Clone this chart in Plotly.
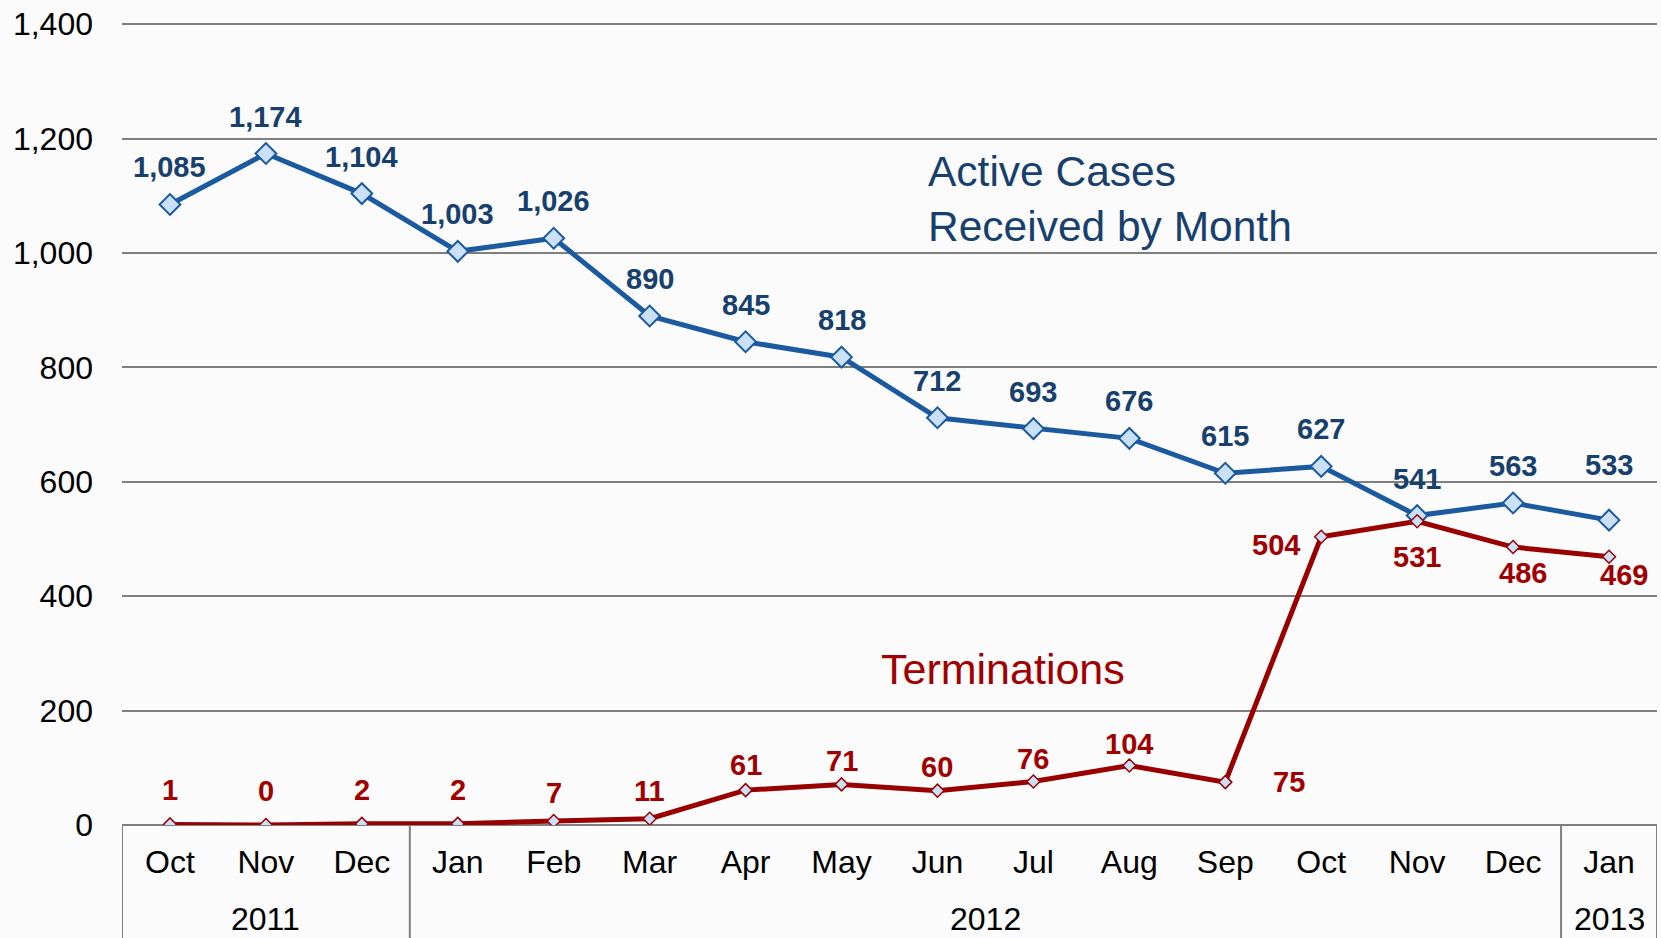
import plotly.graph_objects as go

months = ["Oct", "Nov", "Dec", "Jan", "Feb", "Mar", "Apr", "May", "Jun", "Jul",
          "Aug", "Sep", "Oct", "Nov", "Dec", "Jan"]
years = ["2011", "2011", "2011", "2012", "2012", "2012", "2012", "2012", "2012", "2012",
         "2012", "2012", "2012", "2012", "2012", "2013"]
active_cases = [1085, 1174, 1104, 1003, 1026, 890, 845, 818, 712, 693, 676, 615, 627, 541, 563, 533]
terminations = [1, 0, 2, 2, 7, 11, 61, 71, 60, 76, 104, 75, 504, 531, 486, 469]
y_ticks = [0, 200, 400, 600, 800, 1000, 1200, 1400]

# label offsets in pixels (dx, dy up-positive) -- style only
active_offsets = [(0, 37)] * 15 + [(0, 55)]
term_offsets = [(0, 34), (0, 34), (0, 34), (0, 34), (0, 28), (0, 28), (0, 25), (0, 23),
                (0, 24), (0, 23), (0, 22), (64, 0), (-45, -8), (0, -36), (10, -26), (15, -18)]

FONT = "Liberation Sans, Arial, sans-serif"
BLUE_LINE = "#1B5A9E"
BLUE_TEXT = "#17406D"
RED_LINE = "#990000"
RED_TEXT = "#A00000"
MARKER_FILL = "#C9E0F7"
GRID = "#7F7F7F"

x = list(range(len(months)))

fig = go.Figure()
fig.add_trace(go.Scatter(
    x=x, y=active_cases, mode="lines+markers",
    line=dict(color=BLUE_LINE, width=5),
    marker=dict(symbol="diamond", size=16, color=MARKER_FILL, line=dict(color=BLUE_LINE, width=2)),
    showlegend=False, hoverinfo="y"))
fig.add_trace(go.Scatter(
    x=x, y=terminations, mode="lines+markers",
    line=dict(color=RED_LINE, width=5),
    marker=dict(symbol="diamond", size=10, color=MARKER_FILL, line=dict(color=RED_LINE, width=1.5)),
    showlegend=False, hoverinfo="y"))

annotations = []
for i, v in enumerate(active_cases):
    dx, dy = active_offsets[i]
    annotations.append(dict(x=i, y=v, xref="x", yref="y", text=f"<b>{v:,}</b>", showarrow=False,
                            xshift=dx, yshift=dy, font=dict(family=FONT, size=29, color=BLUE_TEXT)))
for i, v in enumerate(terminations):
    dx, dy = term_offsets[i]
    annotations.append(dict(x=i, y=v, xref="x", yref="y", text=f"<b>{v:,}</b>", showarrow=False,
                            xshift=dx, yshift=dy, font=dict(family=FONT, size=29, color=RED_TEXT)))

# series titles
annotations.append(dict(x=0.524, y=1095, xref="paper", yref="y", xanchor="left", yanchor="middle",
                        align="left", showarrow=False, text="Active Cases<br>Received by Month",
                        font=dict(family=FONT, size=42.5, color=BLUE_TEXT)))
annotations.append(dict(x=0.493, y=273, xref="paper", yref="y", xanchor="left", yanchor="middle",
                        showarrow=False, text="Terminations",
                        font=dict(family=FONT, size=43, color=RED_TEXT)))

# year group labels and dividers
shapes = []
groups = []
for i, yr in enumerate(years):
    if groups and groups[-1][0] == yr:
        groups[-1][2] = i
    else:
        groups.append([yr, i, i])
for yr, a, b in groups:
    annotations.append(dict(x=(a + b) / 2, y=0, xref="x", yref="paper", yanchor="middle",
                            yshift=-94, showarrow=False, text=yr,
                            font=dict(family=FONT, size=32, color="black")))
bounds = [groups[0][1] - 0.5] + [g[2] + 0.5 for g in groups]
for bx in bounds:
    shapes.append(dict(type="line", xref="x", yref="paper", x0=bx, x1=bx, y0=0, y1=-0.15,
                       line=dict(color=GRID, width=2)))

fig.update_layout(
    width=1661, height=938,
    margin=dict(l=122, r=4, t=22, b=113),
    paper_bgcolor="#FBFBFB", plot_bgcolor="#FBFBFB",
    font=dict(family=FONT, size=32, color="black"),
    annotations=annotations, shapes=shapes,
    xaxis=dict(range=[-0.5, len(months) - 0.5], tickvals=x, ticktext=months, showgrid=False,
               zeroline=False, showline=False, ticks="", ticklabelstandoff=15,
               tickfont=dict(family=FONT, size=32, color="black")),
    yaxis=dict(range=[0, 1404], tickvals=y_ticks, tickformat=",",
               showgrid=True, gridcolor=GRID,
               gridwidth=2, zeroline=True, zerolinecolor=GRID, zerolinewidth=2,
               showline=False, ticks="", ticklabelstandoff=28,
               tickfont=dict(family=FONT, size=32, color="black")),
)

fig.write_html("out.html", config={"displayModeBar": False},
               post_script="document.body.style.margin='0';document.body.style.overflow='hidden';")
